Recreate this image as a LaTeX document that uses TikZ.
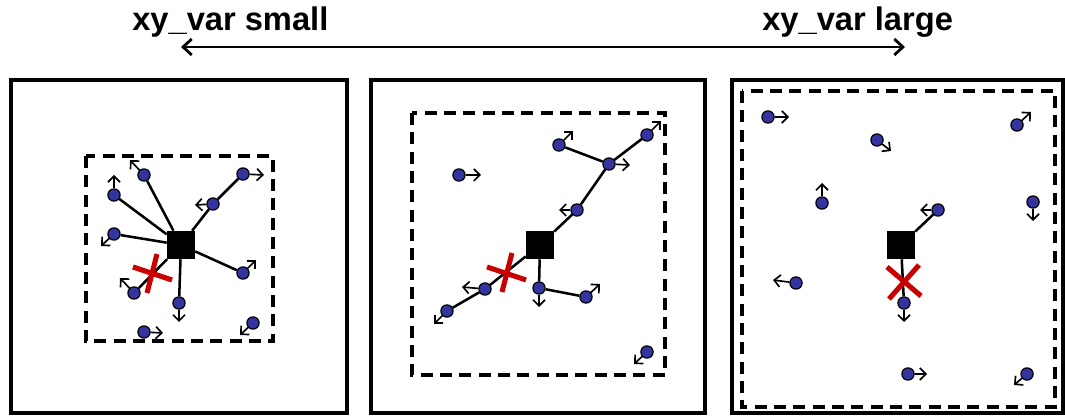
\documentclass[tikz,border=0pt]{standalone}
\usepackage{fontspec}
\setmainfont{Liberation Sans}
\usetikzlibrary{arrows.meta}

\definecolor{dotblue}{RGB}{52,52,158}
\definecolor{cutred}{RGB}{200,0,0}

\tikzset{
  dot/.style={circle, draw=black, line width=0.9pt, fill=dotblue, minimum size=9.2pt, inner sep=0pt},
  hub/.style={rectangle, fill=black, minimum size=21pt, inner sep=0pt},
  vel/.style={line width=1.25pt, -{Straight Barb[length=4.5pt,width=9pt]}},
  bond/.style={line width=1.9pt},
  outerbox/.style={line width=3pt},
  window/.style={line width=2.4pt, dash pattern=on 9pt off 5.5pt},
  cut/.style={cutred, line width=3.8pt},
  label/.style={font=\bfseries\fontsize{24.5}{28}\selectfont, anchor=base west, inner sep=0pt}
}

\begin{document}
\begin{tikzpicture}[x=0.75pt, y=-0.75pt]
  \useasboundingbox (0,0) rectangle (1065,416);

  % === Scale arrow on top ===
  \node[label] (tsmall) at (132,31) {xy\_var small};
  \node[label] (tlarge) at (762,31) {xy\_var large};
  \coordinate (aleft) at (181,47);
  \coordinate (aright) at (905,47);
  \draw[line width=2.1pt, {Straight Barb[length=6.5pt,width=12pt]}-{Straight Barb[length=6.5pt,width=12pt]}] (aleft) -- (aright);

  % === Left panel: small window ===
  \draw[outerbox] (11,80) rectangle (347,413);
  \draw[window] (86,156) rectangle (273,341);
  \node[hub] (s1) at (181,245) {};
  \foreach \n/\x/\y/\u/\v in {1/144/175/-14/-15, 2/114/195/0/-20, 3/114/234/-13/12,
      4/243/174/21/1, 5/213/204/-18/1, 6/243/273/13/-13, 7/134/293/-14/-15,
      8/179/303/0/19, 9/144/332/19/1, 10/253/323/-13/12} {
    \node[dot] (a\n) at (\x,\y) {};
    \draw[vel] (a\n) -- ++(\u,\v);
  }
  \draw[bond] (s1) -- (a1);
  \draw[bond] (s1) -- (a2);
  \draw[bond] (s1) -- (a3);
  \draw[bond] (s1) -- (a5) -- (a4);
  \draw[bond] (s1) -- (a6);
  \draw[bond] (s1) -- (a7);
  \draw[bond] (s1) -- (a8);
  % broken link
  \coordinate (k1) at (152,273);
  \draw[cut] (k1) ++(-19,-6) -- ++(39,13);
  \draw[cut] (k1) ++(5,-19) -- ++(-10,39);

  % === Middle panel: medium window ===
  \draw[outerbox] (371,80) rectangle (705,413);
  \draw[window] (412,113) rectangle (665,375);
  \node[hub] (s2) at (540,245) {};
  \foreach \n/\x/\y/\u/\v in {1/459/175/22/0, 2/559/145/14/-14, 3/647/135/14/-14,
      4/609/164/21/1, 5/577/210/-18/0, 6/485/289/-23/-2, 7/447/311/-13/13,
      8/539/288/0/19, 9/586/297/14/-13, 10/647/352/-13/12} {
    \node[dot] (b\n) at (\x,\y) {};
    \draw[vel] (b\n) -- ++(\u,\v);
  }
  \draw[bond] (s2) -- (b5) -- (b4) -- (b3);
  \draw[bond] (b4) -- (b2);
  \draw[bond] (s2) -- (b6) -- (b7);
  \draw[bond] (s2) -- (b8) -- (b9);
  % broken link
  \coordinate (k2) at (507,273);
  \draw[cut] (k2) ++(-20,-6) -- ++(39,13);
  \draw[cut] (k2) ++(5,-20) -- ++(-10,39);

  % === Right panel: large window ===
  \draw[outerbox] (732,80) rectangle (1063,413);
  \draw[window] (742,91) rectangle (1055,407);
  \node[hub] (s3) at (901,245) {};
  \foreach \n/\x/\y/\u/\v in {1/768/117/21/0, 2/877/140/14/11, 3/1017/125/14/-13,
      4/822/203/0/-20, 5/938/210/-18/0, 6/1033/202/0/19, 7/796/283/-23/-3,
      8/904/303/0/19, 9/908/374/19/0, 10/1027/374/-13/11} {
    \node[dot] (c\n) at (\x,\y) {};
    \draw[vel] (c\n) -- ++(\u,\v);
  }
  \draw[bond] (s3) -- (c5);
  \draw[bond] (s3) -- (c8);
  % broken link
  \coordinate (k3) at (904,282);
  \draw[cut] (k3) ++(-17,-15) -- ++(34,29);
  \draw[cut] (k3) ++(15,-17) -- ++(-30,34);

\end{tikzpicture}
\end{document}
